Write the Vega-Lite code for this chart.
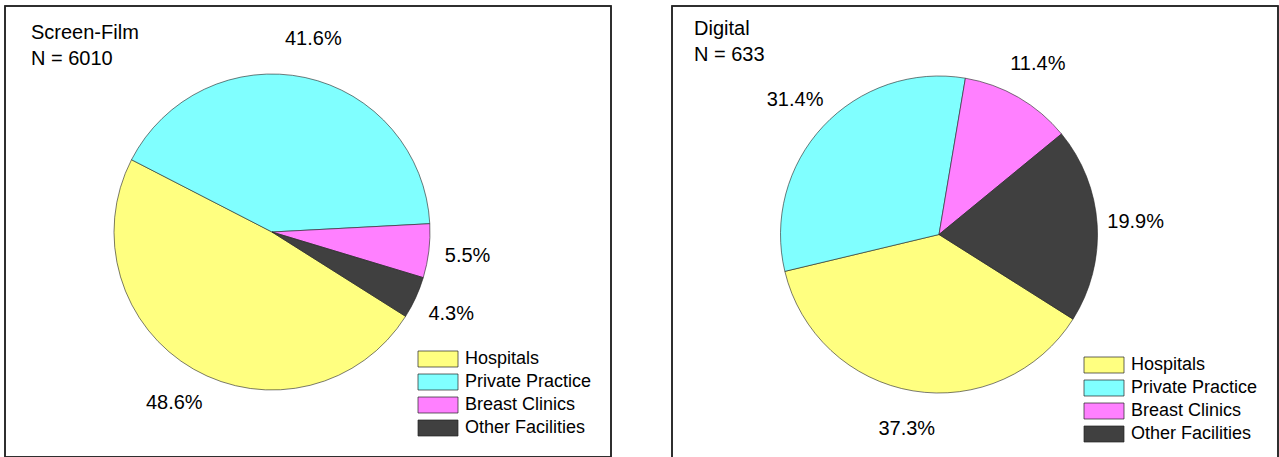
{
  "$schema": "https://vega.github.io/schema/vega-lite/v6.json",
  "padding": {"left": 3, "top": 4, "right": 0, "bottom": 0},
  "background": "white",
  "spacing": 57,
  "config": {
    "font": "Liberation Sans",
    "view": {"stroke": "#222222", "strokeWidth": 1.5},
    "legend": {
      "orient": "bottom-right",
      "offset": 19,
      "padding": 0,
      "title": null,
      "symbolType": "M-1,-1H4V1H-1Z",
      "symbolSize": 256,
      "symbolStrokeColor": "#222222",
      "symbolStrokeWidth": 0.7,
      "symbolOpacity": 1,
      "labelFontSize": 18,
      "labelColor": "black",
      "labelOffset": 30,
      "rowPadding": 3
    }
  },
  "datasets": {
    "screenfilm": [
      {"facility": "Hospitals", "share": 0.486, "rank": 1},
      {"facility": "Private Practice", "share": 0.416, "rank": 2},
      {"facility": "Breast Clinics", "share": 0.055, "rank": 3},
      {"facility": "Other Facilities", "share": 0.043, "rank": 4}
    ],
    "digital": [
      {"facility": "Hospitals", "share": 0.373, "rank": 1},
      {"facility": "Private Practice", "share": 0.314, "rank": 2},
      {"facility": "Breast Clinics", "share": 0.114, "rank": 3},
      {"facility": "Other Facilities", "share": 0.199, "rank": 4}
    ]
  },
  "resolve": {"scale": {"color": "independent", "theta": "independent"}, "legend": {"color": "independent"}},
  "hconcat": [
    {
      "width": 606,
      "height": 451,
      "title": {"text": ["Screen-Film", "N = 6010"], "anchor": "start", "frame": "group", "baseline": "top", "offset": -64, "dx": 26, "fontSize": 20, "fontWeight": "normal", "lineHeight": 26, "color": "black"},
      "data": {"name": "screenfilm"},
      "layer": [
        {
          "data": {"values": [{"frame": 1}]},
          "mark": {"type": "rect", "fill": null, "fillOpacity": 0, "stroke": "#222222", "strokeWidth": 1.5},
          "encoding": {
            "x": {"datum": 0, "type": "quantitative", "scale": {"domain": [0, 1]}, "axis": null},
            "x2": {"datum": 1},
            "y": {"datum": 0, "type": "quantitative", "scale": {"domain": [0, 1]}, "axis": null},
            "y2": {"datum": 1}
          }
        },
        {
          "mark": {"type": "arc", "radius": 158, "stroke": "#222222", "strokeWidth": 0.6, "opacity": 1, "x": 267, "y": 226},
          "encoding": {
            "theta": {"field": "share", "type": "quantitative", "stack": true, "scale": {"range": [2.134, 8.4172]}},
            "order": {"field": "rank", "type": "quantitative", "sort": "ascending"},
            "color": {"field": "facility", "type": "nominal", "sort": ["Hospitals", "Private Practice", "Breast Clinics", "Other Facilities"],
              "scale": {"domain": ["Hospitals", "Private Practice", "Breast Clinics", "Other Facilities"], "range": ["#FFFF80", "#80FFFF", "#FF80FF", "#404040"]},
              "legend": {"offset": 19}}
          }
        },
        {
          "mark": {"type": "text", "radius": 197, "fontSize": 20, "color": "black", "align": "center", "baseline": "middle", "x": 267, "y": 226},
          "encoding": {
            "theta": {"field": "share", "type": "quantitative", "stack": true},
            "order": {"field": "rank", "type": "quantitative", "sort": "ascending"},
            "text": {"field": "share", "type": "quantitative", "format": ".1%"}
          }
        }
      ]
    },
    {
      "width": 606,
      "height": 458,
      "title": {"text": ["Digital", "N = 633"], "anchor": "start", "frame": "group", "baseline": "top", "offset": -60, "dx": 22, "fontSize": 20, "fontWeight": "normal", "lineHeight": 26, "color": "black"},
      "data": {"name": "digital"},
      "layer": [
        {
          "data": {"values": [{"frame": 1}]},
          "mark": {"type": "rect", "fill": null, "fillOpacity": 0, "stroke": "#222222", "strokeWidth": 1.5},
          "encoding": {
            "x": {"datum": 0, "type": "quantitative", "scale": {"domain": [0, 1]}, "axis": null},
            "x2": {"datum": 1},
            "y": {"datum": 0, "type": "quantitative", "scale": {"domain": [0, 1]}, "axis": null},
            "y2": {"datum": 1}
          }
        },
        {
          "mark": {"type": "arc", "radius": 158.5, "stroke": "#222222", "strokeWidth": 0.6, "opacity": 1, "x": 267, "y": 228.5},
          "encoding": {
            "theta": {"field": "share", "type": "quantitative", "stack": true, "scale": {"range": [2.134, 8.4172]}},
            "order": {"field": "rank", "type": "quantitative", "sort": "ascending"},
            "color": {"field": "facility", "type": "nominal", "sort": ["Hospitals", "Private Practice", "Breast Clinics", "Other Facilities"],
              "scale": {"domain": ["Hospitals", "Private Practice", "Breast Clinics", "Other Facilities"], "range": ["#FFFF80", "#80FFFF", "#FF80FF", "#404040"]},
              "legend": {"offset": 20}}
          }
        },
        {
          "mark": {"type": "text", "radius": 197, "fontSize": 20, "color": "black", "align": "center", "baseline": "middle", "x": 267, "y": 228.5},
          "encoding": {
            "theta": {"field": "share", "type": "quantitative", "stack": true},
            "order": {"field": "rank", "type": "quantitative", "sort": "ascending"},
            "text": {"field": "share", "type": "quantitative", "format": ".1%"}
          }
        }
      ]
    }
  ]
}
